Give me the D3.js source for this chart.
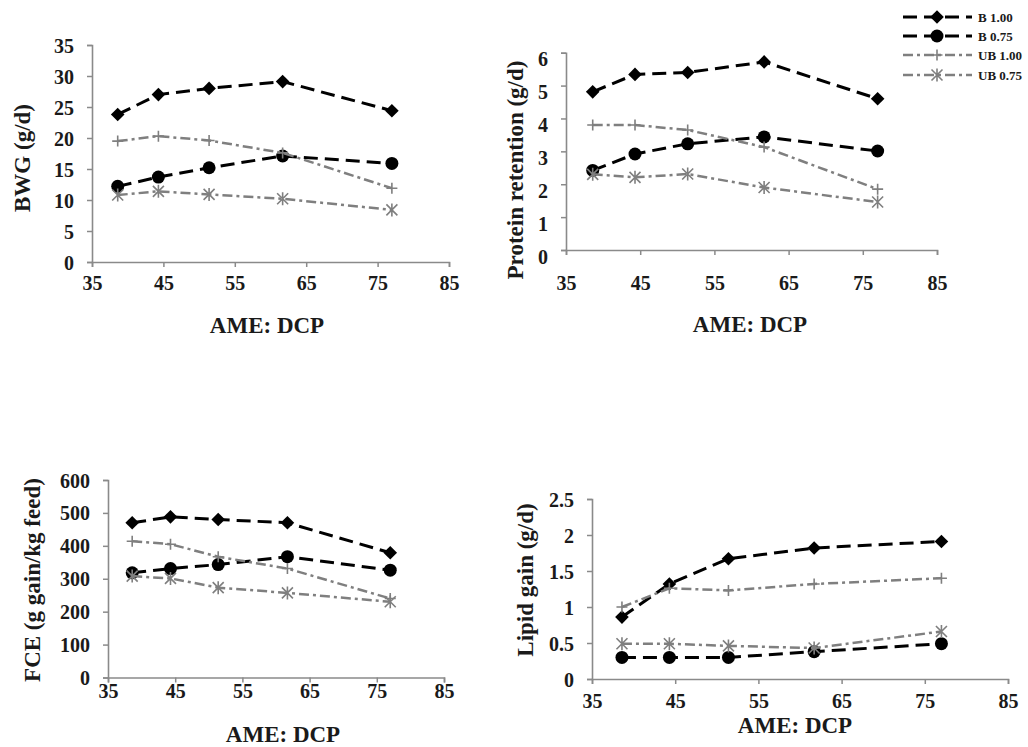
<!DOCTYPE html>
<html>
<head>
<meta charset="utf-8">
<script src="https://cdn.jsdelivr.net/npm/d3@7"></script>
<style>
  html, body { margin: 0; padding: 0; background: #ffffff; }
  svg { display: block; }
  text { font-family: "Times New Roman", Times, "Liberation Serif", "DejaVu Serif", serif; font-weight: bold; fill: #1a1a1a; }
</style>
</head>
<body>
<svg id="chart" width="1028" height="747"></svg>
<script>
// ---------- data ----------
const amedcp = [38.6, 44.3, 51.4, 61.7, 77.0];
const xTicks = [35, 45, 55, 65, 75, 85];
const seriesNames = ["B 1.00", "B 0.75", "UB 1.00", "UB 0.75"];

const bwgB100  = [23.8, 27.0, 28.0, 29.1, 24.4];
const bwgB075  = [12.2, 13.7, 15.2, 17.1, 15.9];
const bwgUB100 = [19.5, 20.3, 19.6, 17.6, 11.9];
const bwgUB075 = [10.8, 11.4, 10.9, 10.2, 8.4];
const bwgTicks = [0, 5, 10, 15, 20, 25, 30, 35];

const prB100  = [4.81, 5.34, 5.40, 5.72, 4.60];
const prB075  = [2.42, 2.92, 3.23, 3.44, 3.01];
const prUB100 = [3.80, 3.80, 3.65, 3.13, 1.85];
const prUB075 = [2.30, 2.21, 2.31, 1.90, 1.46];
const prTicks = [0, 1, 2, 3, 4, 5, 6];

const fceB100  = [470, 488, 480, 470, 379];
const fceB075  = [318, 331, 343, 367, 326];
const fceUB100 = [414, 405, 367, 331, 240];
const fceUB075 = [308, 301, 273, 257, 230];
const fceTicks = [0, 100, 200, 300, 400, 500, 600];

const lgB100  = [0.86, 1.32, 1.67, 1.82, 1.91];
const lgB075  = [0.30, 0.30, 0.30, 0.38, 0.49];
const lgUB100 = [1.00, 1.26, 1.23, 1.32, 1.40];
const lgUB075 = [0.49, 0.49, 0.46, 0.43, 0.66];
const lgTicks = [0, 0.5, 1, 1.5, 2, 2.5];

// ---------- layout ----------
const FONT = '"Times New Roman", Times, "Liberation Serif", "DejaVu Serif", serif';
const panels = [
  { yTitle: "BWG (g/d)", ticks: bwgTicks, series: [bwgB100, bwgB075, bwgUB100, bwgUB075],
    left: 92, right: 449, top: 45, bottom: 262, xLblOff: 28, yLblOff: 0,
    yTitleX: 22, yTitleY: 158, xTitleX: 267, xTitleY: 333 },
  { yTitle: "Protein retention (g/d)", ticks: prTicks, series: [prB100, prB075, prUB100, prUB075],
    left: 566, right: 937, top: 52.7, bottom: 250, xLblOff: 40, yLblOff: 6,
    yTitleX: 515, yTitleY: 170, xTitleX: 750, xTitleY: 332 },
  { yTitle: "FCE (g gain/kg feed)", ticks: fceTicks, series: [fceB100, fceB075, fceUB100, fceUB075],
    left: 108, right: 444, top: 480, bottom: 677.5, xLblOff: 20, yLblOff: 0,
    yTitleX: 32, yTitleY: 580, xTitleX: 283, xTitleY: 742 },
  { yTitle: "Lipid gain (g/d)", ticks: lgTicks, series: [lgB100, lgB075, lgUB100, lgUB075],
    left: 592, right: 1008, top: 499, bottom: 679, xLblOff: 29, yLblOff: 0,
    yTitleX: 525, yTitleY: 580, xTitleX: 795, xTitleY: 733 }
];

const axisColor = "#8a8a8a";
const gray = "#7f7f7f";
const styles = [
  { stroke: "#000", width: 3, dash: "14,7", marker: "diamond" },
  { stroke: "#000", width: 3, dash: "14,7", marker: "circle" },
  { stroke: gray, width: 2.5, dash: "10,4,3,4", marker: "plus" },
  { stroke: gray, width: 2.5, dash: "10,4,3,4", marker: "star" }
];

const svg = d3.select("#chart");

function drawMarker(g, type, x, y) {
  if (type === "diamond") {
    const s = 6.8;
    g.append("path").attr("d", `M${x},${y - s}L${x + s},${y}L${x},${y + s}L${x - s},${y}Z`).attr("fill", "#000");
  } else if (type === "circle") {
    g.append("circle").attr("cx", x).attr("cy", y).attr("r", 6.5).attr("fill", "#000");
  } else if (type === "plus") {
    const s = 5.5;
    g.append("path").attr("d", `M${x - s},${y}H${x + s}M${x},${y - s}V${y + s}`)
      .attr("stroke", gray).attr("stroke-width", 1.6).attr("fill", "none");
  } else if (type === "star") {
    const s = 5.5;
    g.append("path").attr("d", `M${x - s},${y - s}L${x + s},${y + s}M${x - s},${y + s}L${x + s},${y - s}M${x},${y - s - 1}V${y + s + 1}`)
      .attr("stroke", gray).attr("stroke-width", 1.6).attr("fill", "none");
  }
}

panels.forEach(p => {
  const x = d3.scaleLinear().domain([35, 85]).range([p.left, p.right]);
  const y = d3.scaleLinear().domain([0, d3.max(p.ticks)]).range([p.bottom, p.top]);
  const g = svg.append("g");

  // y axis
  const ya = g.append("g").attr("transform", `translate(${p.left},0)`)
    .call(d3.axisLeft(y).tickValues(p.ticks).tickSize(5).tickFormat(d => String(d)));
  ya.attr("font-family", null).attr("font-size", null);
  ya.select(".domain").attr("stroke", axisColor).attr("stroke-width", 1.6);
  ya.selectAll(".tick line").attr("stroke", axisColor).attr("stroke-width", 1.5);
  ya.selectAll(".tick text").attr("x", -18).attr("dy", "0.35em")
    .attr("transform", `translate(0,${p.yLblOff})`)
    .style("font-size", "20px").style("font-family", FONT).style("font-weight", "bold").attr("fill", "#1a1a1a");

  // x axis
  const xa = g.append("g").attr("transform", `translate(0,${p.bottom})`)
    .call(d3.axisBottom(x).tickValues(xTicks).tickSize(5).tickFormat(d => String(d)));
  xa.attr("font-family", null).attr("font-size", null);
  xa.select(".domain").attr("stroke", axisColor).attr("stroke-width", 1.6);
  xa.selectAll(".tick line").attr("stroke", axisColor).attr("stroke-width", 1.5);
  xa.selectAll(".tick text").attr("y", p.xLblOff).attr("dy", 0)
    .style("font-size", "20px").style("font-family", FONT).style("font-weight", "bold").attr("fill", "#1a1a1a");

  // titles
  g.append("text").attr("x", p.xTitleX).attr("y", p.xTitleY).attr("text-anchor", "middle")
    .style("font-size", "23px").style("font-family", FONT).text("AME: DCP");
  g.append("text").attr("transform", `translate(${p.yTitleX},${p.yTitleY}) rotate(-90)`)
    .attr("text-anchor", "middle").attr("dominant-baseline", "central")
    .style("font-size", "23px").style("font-family", FONT).text(p.yTitle);

  // series
  const line = d3.line().x((d, i) => x(amedcp[i])).y(d => y(d));
  p.series.forEach((vals, si) => {
    const st = styles[si];
    g.append("path").datum(vals).attr("d", line).attr("fill", "none")
      .attr("stroke", st.stroke).attr("stroke-width", st.width).attr("stroke-dasharray", st.dash);
    const mg = g.append("g");
    vals.forEach((v, i) => drawMarker(mg, st.marker, x(amedcp[i]), y(v)));
  });
});

// legend
const legendRows = [17, 36, 55, 75];
const lg = svg.append("g");
seriesNames.forEach((name, i) => {
  const st = styles[i];
  const yy = legendRows[i];
  lg.append("line").attr("x1", 903).attr("x2", 972).attr("y1", yy).attr("y2", yy)
    .attr("stroke", st.stroke).attr("stroke-width", st.width).attr("stroke-dasharray", st.dash);
  drawMarker(lg, st.marker, 937, yy);
  lg.append("text").attr("x", 978).attr("y", yy).attr("dy", "0.35em")
    .style("font-size", "13px").style("font-family", FONT).text(name);
});
</script>
</body>
</html>
